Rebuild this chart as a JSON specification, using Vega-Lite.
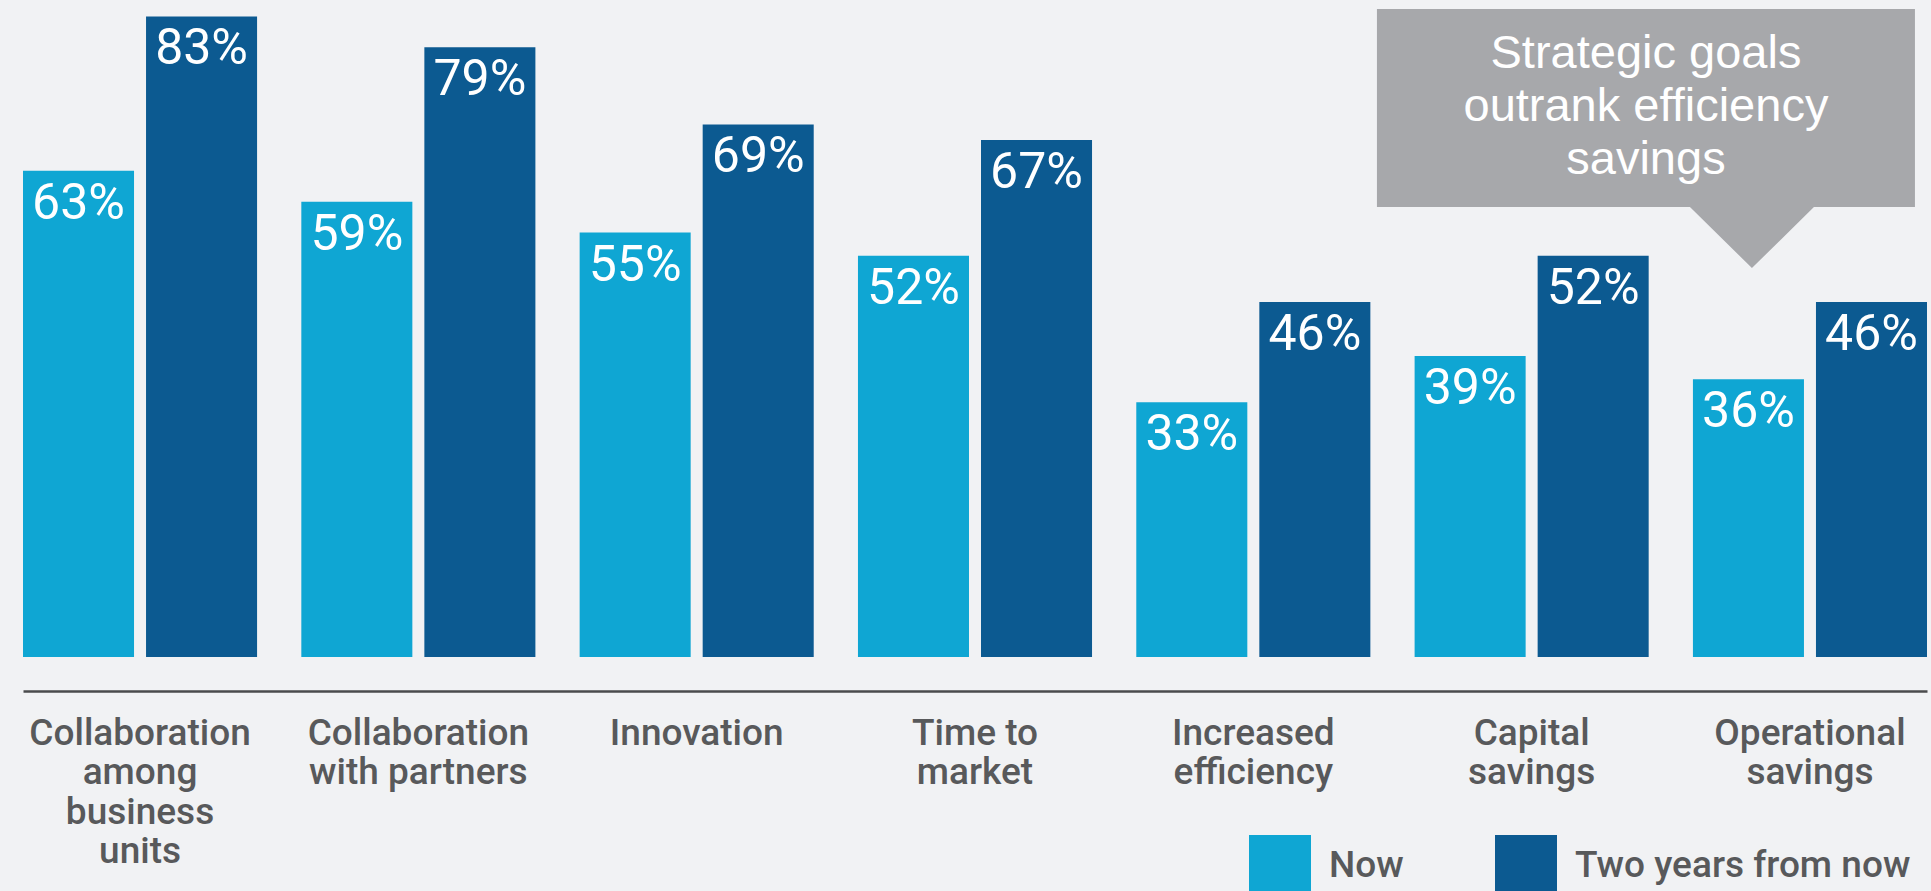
{
  "$schema": "https://vega.github.io/schema/vega-lite/v6.json",
  "width": 1904,
  "height": 656,
  "autosize": {"type": "none"},
  "padding": {"left": 23, "top": 1, "right": 4, "bottom": 234},
  "background": "#f1f2f4",
  "config": {"view": {"stroke": null}, "font": "Roboto"},
  "layer": [
    {
      "data": {
        "values": [
          {"category": "Collaboration among business units", "series": "Now", "value": 0.63},
          {"category": "Collaboration among business units", "series": "Two years from now", "value": 0.83},
          {"category": "Collaboration with partners", "series": "Now", "value": 0.59},
          {"category": "Collaboration with partners", "series": "Two years from now", "value": 0.79},
          {"category": "Innovation", "series": "Now", "value": 0.55},
          {"category": "Innovation", "series": "Two years from now", "value": 0.69},
          {"category": "Time to market", "series": "Now", "value": 0.52},
          {"category": "Time to market", "series": "Two years from now", "value": 0.67},
          {"category": "Increased efficiency", "series": "Now", "value": 0.33},
          {"category": "Increased efficiency", "series": "Two years from now", "value": 0.46},
          {"category": "Capital savings", "series": "Now", "value": 0.39},
          {"category": "Capital savings", "series": "Two years from now", "value": 0.52},
          {"category": "Operational savings", "series": "Now", "value": 0.36},
          {"category": "Operational savings", "series": "Two years from now", "value": 0.46}
        ]
      },
      "encoding": {
        "x": {
          "field": "category",
          "type": "nominal",
          "sort": null,
          "scale": {"paddingInner": 0.159, "paddingOuter": 0},
          "axis": {
            "title": null,
            "orient": "bottom",
            "offset": 34,
            "domainColor": "#4a4b4d",
            "domainWidth": 2.5,
            "ticks": false,
            "tickSize": 0,
            "labelPadding": 24,
            "labelFont": "Roboto",
            "labelFontSize": 37,
            "labelFontWeight": 500,
            "labelColor": "#58595b",
            "labelBaseline": "top",
            "labelLineHeight": 39.5,
            "labelAngle": 0,
            "labelLimit": 0,
            "labelOverlap": false,
            "labelExpr": "datum.label == 'Collaboration with partners' ? ['Collaboration', 'with partners'] : datum.label == 'Time to market' ? ['Time to', 'market'] : split(datum.label, ' ')"
          }
        },
        "xOffset": {
          "field": "series",
          "type": "nominal",
          "sort": ["Now", "Two years from now"],
          "scale": {"paddingInner": 0.0976, "paddingOuter": 0}
        },
        "y": {
          "field": "value",
          "type": "quantitative",
          "scale": {"domain": [0, 0.85], "nice": false},
          "axis": null
        }
      },
      "layer": [
        {
          "mark": {"type": "bar"},
          "encoding": {
            "color": {
              "field": "series",
              "type": "nominal",
              "scale": {"domain": ["Now", "Two years from now"], "range": ["#0fa6d3", "#0c5a91"]},
              "legend": {
                "title": null,
                "orient": "none",
                "legendX": 1226,
                "legendY": 834,
                "direction": "horizontal",
                "symbolType": "square",
                "symbolSize": 3844,
                "symbolStrokeWidth": 0,
                "symbolOpacity": 1,
                "labelFont": "Roboto",
                "labelFontSize": 37,
                "labelFontWeight": 500,
                "labelColor": "#58595b",
                "labelOffset": 18,
                "columnPadding": 91,
                "padding": 0,
                "labelLimit": 0
              }
            }
          }
        },
        {
          "mark": {
            "type": "text",
            "dy": 48,
            "baseline": "alphabetic",
            "align": "center",
            "font": "Roboto",
            "fontSize": 50,
            "color": "#ffffff"
          },
          "encoding": {
            "text": {"field": "value", "type": "quantitative", "format": ".0%"}
          }
        }
      ]
    },
    {
      "data": {
        "values": [
          {"category": "Operational savings", "series": "Now", "note": "Strategic goals\noutrank efficiency\nsavings"}
        ]
      },
      "encoding": {
        "x": {"field": "category", "type": "nominal", "sort": null},
        "xOffset": {"field": "series", "type": "nominal", "sort": ["Now", "Two years from now"]}
      },
      "layer": [
        {
          "mark": {
            "type": "point",
            "shape": "M -371.5 -259 L 166.5 -259 L 166.5 -61 L 65.5 -61 L 3.5 0 L -58.5 -61 L -371.5 -61 Z",
            "size": 4,
            "filled": true,
            "fill": "#a7a8ab",
            "opacity": 1,
            "strokeWidth": 0
          },
          "encoding": {"y": {"datum": 0.504, "type": "quantitative"}}
        },
        {
          "mark": {
            "type": "text",
            "align": "center",
            "baseline": "alphabetic",
            "dx": -102.5,
            "lineBreak": "\n",
            "lineHeight": 53,
            "font": "Liberation Sans",
            "fontSize": 47,
            "color": "#ffffff"
          },
          "encoding": {
            "y": {"datum": 0.7632, "type": "quantitative"},
            "text": {"field": "note", "type": "nominal"}
          }
        }
      ]
    }
  ]
}
